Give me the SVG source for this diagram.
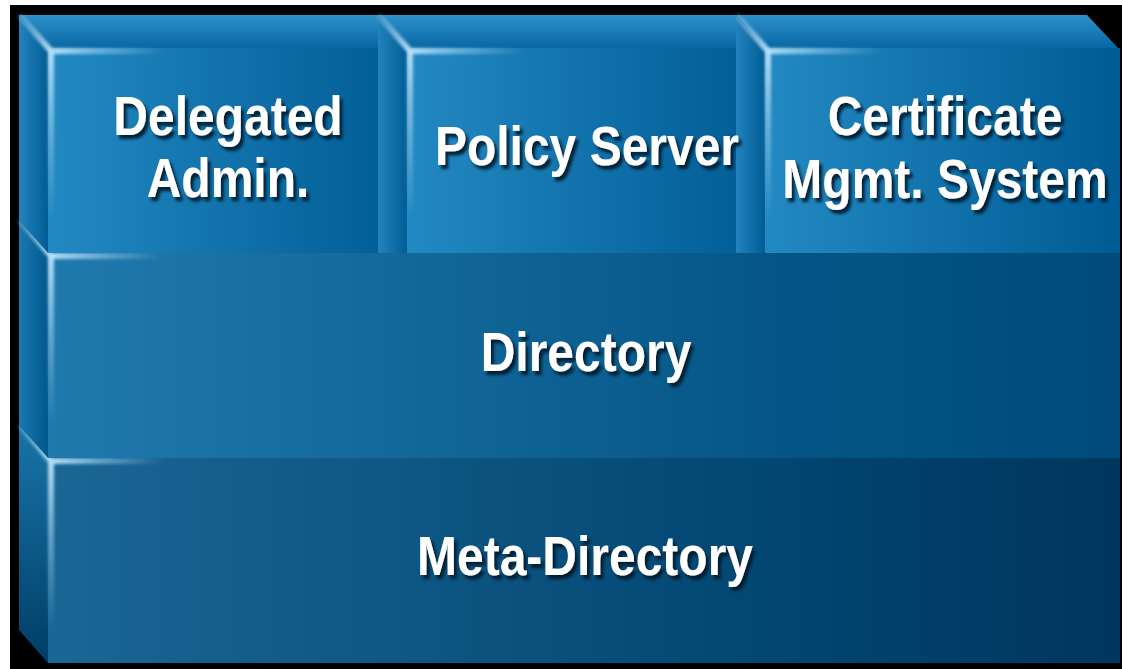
<svg xmlns="http://www.w3.org/2000/svg" width="1122" height="669" viewBox="0 0 1122 669">
  <defs>
    <linearGradient id="gFrontTop" x1="0" y1="0" x2="1" y2="0">
      <stop offset="0" stop-color="#2389c2"/>
      <stop offset="1" stop-color="#005b94"/>
    </linearGradient>
    <linearGradient id="gFrontTopCut" gradientUnits="userSpaceOnUse" x1="407" y1="0" x2="765" y2="0">
      <stop offset="0" stop-color="#2389c2"/>
      <stop offset="1" stop-color="#005b94"/>
    </linearGradient>
    <linearGradient id="gTopFace" x1="0" y1="0" x2="0" y2="1">
      <stop offset="0" stop-color="#2e90c9"/>
      <stop offset="0.4" stop-color="#1f80bc"/>
      <stop offset="1" stop-color="#0767a2"/>
    </linearGradient>
    <linearGradient id="gTopFaceU" gradientUnits="userSpaceOnUse" x1="0" y1="15" x2="0" y2="48">
      <stop offset="0" stop-color="#2e90c9"/>
      <stop offset="0.4" stop-color="#1f80bc"/>
      <stop offset="1" stop-color="#0767a2"/>
    </linearGradient>
    <linearGradient id="gLeftTop" x1="0" y1="0" x2="1" y2="0">
      <stop offset="0" stop-color="#2283bd"/>
      <stop offset="1" stop-color="#015c94"/>
    </linearGradient>
    <linearGradient id="gFrontDir" x1="0" y1="0" x2="1" y2="0">
      <stop offset="0" stop-color="#2079ad"/>
      <stop offset="0.7" stop-color="#045585"/>
      <stop offset="1" stop-color="#004b7b"/>
    </linearGradient>
    <linearGradient id="gLeftDir" x1="0" y1="0" x2="1" y2="0">
      <stop offset="0" stop-color="#1b79b1"/>
      <stop offset="1" stop-color="#00578c"/>
    </linearGradient>
    <linearGradient id="gFrontMeta" x1="0" y1="0" x2="1" y2="0">
      <stop offset="0" stop-color="#1a6695"/>
      <stop offset="0.7" stop-color="#014570"/>
      <stop offset="1" stop-color="#00365d"/>
    </linearGradient>
    <linearGradient id="gLeftMeta" x1="0" y1="0" x2="0" y2="1">
      <stop offset="0" stop-color="#1875a9"/>
      <stop offset="1" stop-color="#003d66"/>
    </linearGradient>
    <linearGradient id="hlDiag" gradientUnits="userSpaceOnUse" x1="-27" y1="-31" x2="3" y2="3">
      <stop offset="0" stop-color="#9fd2ef" stop-opacity="0.3"/>
      <stop offset="1" stop-color="#b4def5" stop-opacity="1"/>
    </linearGradient>
    <linearGradient id="hlH" gradientUnits="userSpaceOnUse" x1="3" y1="0" x2="115" y2="0">
      <stop offset="0" stop-color="#b4def5" stop-opacity="1"/>
      <stop offset="0.5" stop-color="#9fd2ef" stop-opacity="0.5"/>
      <stop offset="1" stop-color="#9fd2ef" stop-opacity="0"/>
    </linearGradient>
    <linearGradient id="hlV" gradientUnits="userSpaceOnUse" x1="0" y1="3" x2="0" y2="170">
      <stop offset="0" stop-color="#b4def5" stop-opacity="1"/>
      <stop offset="0.5" stop-color="#9fd2ef" stop-opacity="0.5"/>
      <stop offset="1" stop-color="#9fd2ef" stop-opacity="0"/>
    </linearGradient>
    <filter id="soft" x="-50%" y="-50%" width="200%" height="200%">
      <feGaussianBlur stdDeviation="1.4"/>
    </filter>
    <filter id="shadow" x="-10%" y="-30%" width="120%" height="160%">
      <feDropShadow dx="3" dy="3.4" stdDeviation="1.5" flood-color="#00152b" flood-opacity="0.9"/>
    </filter>
    <g id="hl" filter="url(#soft)">
      <line x1="-27" y1="-31" x2="3" y2="3" stroke="url(#hlDiag)" stroke-width="6" stroke-linecap="round"/>
      <line x1="3" y1="3" x2="115" y2="3" stroke="url(#hlH)" stroke-width="6"/>
      <line x1="3" y1="3" x2="3" y2="170" stroke="url(#hlV)" stroke-width="6"/>
    </g>
  </defs>
  <style>
    .label { font-family: "Liberation Sans", Arial, sans-serif; font-weight: bold; font-size: 48px; fill: #ffffff; text-anchor: middle; filter: url(#shadow); }
  </style>

  <rect x="0" y="0" width="1122" height="669" fill="#ffffff"/>
  <rect x="10" y="5" width="1112" height="664" fill="#000000"/>

  <g id="meta-directory">
    <polygon points="19,425 48,458 48,663 19,630" fill="url(#gLeftMeta)"/>
    <rect x="48" y="458" width="1072" height="205" fill="url(#gFrontMeta)"/>
    <use href="#hl" transform="translate(48,458)"/>
    <text class="label" transform="translate(585,575) scale(1,1.17)">Meta-Directory</text>
  </g>

  <g id="directory">
    <polygon points="19,220 48,253 48,458 19,425" fill="url(#gLeftDir)"/>
    <rect x="48" y="253" width="1072" height="205" fill="url(#gFrontDir)"/>
    <use href="#hl" transform="translate(48,253)"/>
    <text class="label" transform="translate(586,371) scale(1,1.17)">Directory</text>
  </g>

  <g id="delegated-admin">
    <polygon points="19,15 378,15 407,48 48,48" fill="url(#gTopFaceU)"/>
    <polygon points="19,15 48,48 48,253 19,220" fill="url(#gLeftTop)"/>
    <rect x="48" y="48" width="359" height="205" fill="url(#gFrontTop)"/>
    <use href="#hl" transform="translate(48,48)"/>
    <text class="label" transform="translate(228,135) scale(1,1.17)">Delegated</text>
    <text class="label" transform="translate(228,197) scale(1,1.17)">Admin.</text>
  </g>

  <g id="certificate-mgmt">
    <polygon points="736,15 1087,15 1120,50 765,48" fill="url(#gTopFaceU)"/>
    <polygon points="736,15 765,48 765,253 736,253" fill="url(#gLeftTop)"/>
    <rect x="765" y="48" width="355" height="205" fill="url(#gFrontTop)"/>
    <use href="#hl" transform="translate(765,48)"/>
    <text class="label" transform="translate(945,135) scale(1,1.17)">Certificate</text>
    <text class="label" transform="translate(945,198) scale(1,1.17)">Mgmt. System</text>
  </g>

  <g id="policy-server">
    <polygon points="378,15 736,15 736,48 407,48" fill="url(#gTopFaceU)"/>
    <polygon points="378,15 407,48 407,253 378,253" fill="url(#gLeftTop)"/>
    <rect x="407" y="48" width="329" height="205" fill="url(#gFrontTopCut)"/>
    <use href="#hl" transform="translate(407,48)"/>
    <text class="label" transform="translate(587,165) scale(1,1.17)">Policy Server</text>
  </g>

  <g id="connectors"/>
</svg>
